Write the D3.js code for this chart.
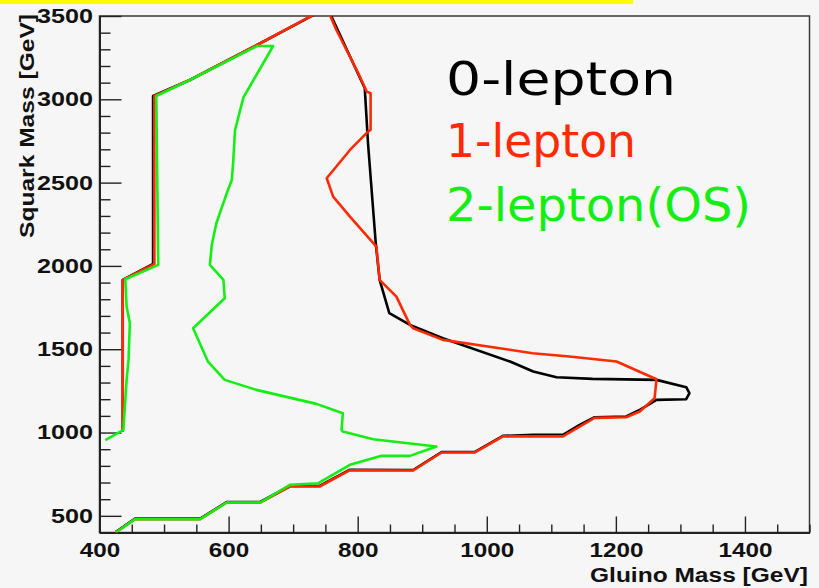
<!DOCTYPE html>
<html>
<head>
<meta charset="utf-8">
<script src="https://cdn.jsdelivr.net/npm/d3@7"></script>
<style>
  html, body { margin: 0; padding: 0; background: #f6f6f6; }
  svg { display: block; }
</style>
</head>
<body>
<svg id="chart" width="819" height="588"></svg>
<script>
// Exclusion contours in the (gluino mass, squark mass) plane, in GeV.
const zeroLepton = [
  [436,1004],[436,1916],[483,2012],[483,3020],[540,3116],[644,3326],[753,3550],
  [811,3066],[816,2736],[828,2136],[834,1916],[849,1716],[881,1646],[932,1566],
  [1036,1426],[1072,1366],[1108,1332],[1164,1322],[1263,1316],[1309,1272],
  [1314,1236],[1309,1200],[1263,1196],[1237,1136],[1216,1096],[1167,1092],
  [1144,1046],[1118,986],[1072,986],[1025,980],[981,883],[930,883],[886,775],
  [788,777],[741,679],[695,679],[649,583],[597,583],[556,483],[455,483],[425,403]
];
const oneLepton = [
  [436,1004],[436,1916],[485,2012],[485,3020],[540,3116],[644,3326],[752,3550],
  [767,3416],[788,3256],[801,3156],[814,3046],[820,3036],[820,2816],[816,2806],
  [788,2696],[752,2526],[762,2416],[788,2296],[829,2116],[834,1916],[860,1816],
  [881,1646],[886,1626],[932,1556],[1020,1506],[1071,1476],[1128,1456],
  [1201,1426],[1263,1320],[1260,1206],[1237,1126],[1216,1092],[1167,1088],
  [1118,977],[1025,977],[981,880],[930,880],[886,772],[788,774],[741,676],
  [695,676],[649,580],[597,580],[556,480],[455,480],[425,400]
];
const twoLeptonOS = [
  [409,955],[437,1016],[442,1316],[445,1436],[447,1656],[442,1756],[440,1920],
  [491,2006],[488,3020],[540,3116],[644,3320],[669,3320],[623,3012],[610,2816],
  [607,2616],[605,2516],[599,2456],[581,2256],[574,2126],[571,2006],[592,1916],
  [594,1806],[545,1626],[568,1426],[594,1316],[643,1256],[736,1172],[777,1116],
  [775,1016],[777,1006],[824,960],[922,916],[881,860],[837,860],[788,806],
  [739,696],[695,686],[649,580],[597,580],[556,480],[455,480],[425,400]
];

const seriesNames = ["0-lepton", "1-lepton", "2-lepton(OS)"];
const seriesColors = ["#000000", "#ff2a00", "#14ee14"];
const seriesData = [zeroLepton, oneLepton, twoLeptonOS];

const xMajorTicks = [400, 600, 800, 1000, 1200, 1400];
const yMajorTicks = [500, 1000, 1500, 2000, 2500, 3000, 3500];

const xTitle = "Gluino Mass [GeV]";
const yTitle = "Squark Mass [GeV]";

const svg = d3.select("#chart");
const x = d3.scaleLinear().domain([400, 1500]).range([99.5, 809.5]);
const y = d3.scaleLinear().domain([400, 3500]).range([532.5, 16]);

// page background and the yellow strip along the top
svg.append("rect").attr("width", 819).attr("height", 588).attr("fill", "#f6f6f6");
svg.append("rect").attr("x", 0).attr("y", 0).attr("width", 633).attr("height", 4).attr("fill", "#ffff00");

// frame box
svg.append("rect")
  .attr("x", x(400)).attr("y", y(3500))
  .attr("width", x(1500) - x(400)).attr("height", y(400) - y(3500))
  .attr("fill", "none").attr("stroke", "#3a3a3a").attr("stroke-width", 1.5);

svg.append("clipPath").attr("id", "frameClip")
  .append("rect")
  .attr("x", x(400)).attr("y", y(3500))
  .attr("width", x(1500) - x(400)).attr("height", y(400) - y(3500));

const tickFont = "'Liberation Sans', Arial, Helvetica, sans-serif";

// x axis: minor ticks every 50, major every 200, all pointing into the frame
const xMinor = d3.range(400, 1501, 50).filter(v => !xMajorTicks.includes(v));
svg.append("g").attr("transform", `translate(0,${y(400)})`)
  .call(d3.axisBottom(x).tickValues(xMinor).tickSize(-8).tickSizeOuter(0).tickFormat(""))
  .call(g => g.select(".domain").remove())
  .call(g => g.selectAll("line").attr("stroke", "#222").attr("stroke-width", 1.4));

const xAxis = svg.append("g").attr("transform", `translate(0,${y(400)})`)
  .call(d3.axisBottom(x).tickValues(xMajorTicks).tickSize(-16).tickSizeOuter(0).tickPadding(10).tickFormat(d3.format("d")));
xAxis.select(".domain").attr("stroke", "#222").attr("stroke-width", 2);
xAxis.selectAll("line").attr("stroke", "#222").attr("stroke-width", 1.4);
xAxis.selectAll("text")
  .attr("fill", "#111").attr("font-family", tickFont).attr("font-weight", "bold").attr("font-size", 20)
  .attr("textLength", d => String(d).length * 13.5).attr("lengthAdjust", "spacingAndGlyphs");

// y axis: minor ticks every 100, major every 500
const yMinor = d3.range(400, 3501, 100).filter(v => !yMajorTicks.includes(v));
svg.append("g").attr("transform", `translate(${x(400)},0)`)
  .call(d3.axisLeft(y).tickValues(yMinor).tickSize(-11).tickSizeOuter(0).tickFormat(""))
  .call(g => g.select(".domain").remove())
  .call(g => g.selectAll("line").attr("stroke", "#222").attr("stroke-width", 1.4));

const yAxis = svg.append("g").attr("transform", `translate(${x(400)},0)`)
  .call(d3.axisLeft(y).tickValues(yMajorTicks).tickSize(-22).tickSizeOuter(0).tickPadding(6.5).tickFormat(d3.format("d")));
yAxis.select(".domain").attr("stroke", "#222").attr("stroke-width", 2);
yAxis.selectAll("line").attr("stroke", "#222").attr("stroke-width", 1.4);
yAxis.selectAll("text")
  .attr("fill", "#111").attr("font-family", tickFont).attr("font-weight", "bold").attr("font-size", 20)
  .attr("textLength", d => String(d).length * 14).attr("lengthAdjust", "spacingAndGlyphs");

// axis titles
svg.append("text")
  .attr("x", 808).attr("y", 582).attr("text-anchor", "end")
  .attr("font-family", tickFont).attr("font-weight", "bold").attr("font-size", 20).attr("fill", "#111")
  .attr("textLength", 218).attr("lengthAdjust", "spacingAndGlyphs")
  .text(xTitle);

svg.append("text")
  .attr("transform", "translate(34,14) rotate(-90)")
  .attr("text-anchor", "end")
  .attr("font-family", tickFont).attr("font-weight", "bold").attr("font-size", 20).attr("fill", "#111")
  .attr("textLength", 224).attr("lengthAdjust", "spacingAndGlyphs")
  .text(yTitle);

// contour lines, clipped to the frame
const line = d3.line().x(d => x(d[0])).y(d => y(d[1]));
const curves = svg.append("g").attr("clip-path", "url(#frameClip)");
seriesData.forEach((pts, i) => {
  curves.append("path")
    .datum(pts)
    .attr("d", line)
    .attr("fill", "none")
    .attr("stroke", seriesColors[i])
    .attr("stroke-width", 2.6)
    .attr("stroke-linejoin", "round");
});

// legend labels
const legendBaselines = [95, 157, 221];
const legendWidths = [230, 190, 305];
svg.append("g").selectAll("text")
  .data(seriesNames)
  .join("text")
  .attr("x", 446)
  .attr("y", (d, i) => legendBaselines[i])
  .attr("fill", (d, i) => seriesColors[i])
  .attr("font-family", "'DejaVu Sans', 'Noto Sans', sans-serif")
  .attr("font-size", 46)
  .attr("textLength", (d, i) => legendWidths[i])
  .attr("lengthAdjust", "spacingAndGlyphs")
  .text(d => d);
</script>
</body>
</html>
